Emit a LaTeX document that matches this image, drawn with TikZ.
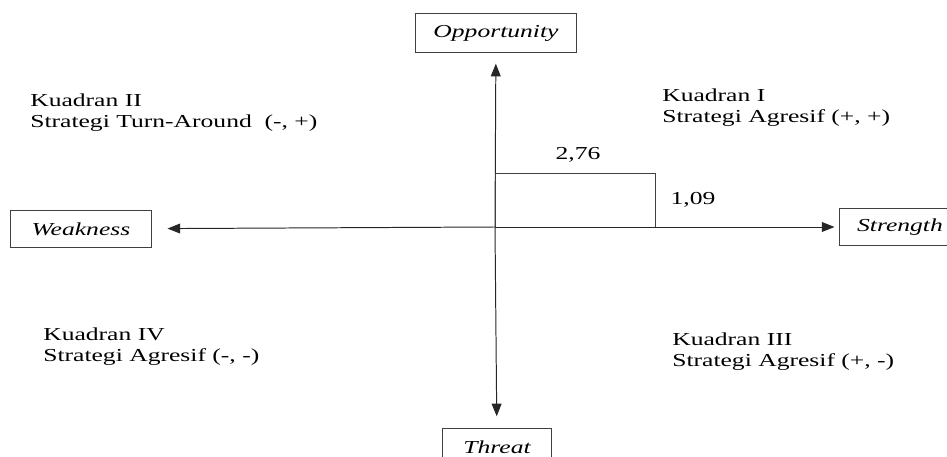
\documentclass[tikz,border=0pt]{standalone}
\usepackage{fontspec}
\setmainfont{Liberation Serif}
\usepackage{tikz}
\usetikzlibrary{arrows.meta}
\newcommand{\wtext}[1]{\scalebox{1.4}[1]{#1}}

\begin{document}
\begin{tikzpicture}[
    x=0.025cm, y=-0.025cm,
    every node/.style={font=\fontsize{13}{15}\selectfont},
    axisbox/.style={rectangle, draw=black!75, line width=0.7pt, font=\fontsize{13}{15}\selectfont\itshape},
    quad/.style={anchor=base west, align=left, inner sep=0pt},
    arrow/.style={-{Triangle[length=9pt,width=7pt]}, line width=0.7pt, black!85}
]
    \useasboundingbox (0,0) rectangle (947,457);
    \clip (0,0) rectangle (947,457);

    % The four factors
    \node[axisbox, minimum width=4cm, minimum height=0.95cm] (opp) at (496,33) {\wtext{Opportunity}};
    \node[axisbox, minimum width=2.7cm, minimum height=0.95cm] (thr) at (497,447) {\wtext{Threat}};
    \node[axisbox, minimum width=3.5cm, minimum height=0.9cm] (weak) at (81,229) {\wtext{Weakness}};
    \node[axisbox, minimum width=3.05cm, minimum height=0.9cm] (str) at (900,227) {\wtext{Strength}};

    % Axes
    \coordinate (origin) at (495,227);
    \draw[arrow, shorten >=0.28cm] (origin) -- (opp);
    \draw[arrow, shorten >=0.28cm] (origin) -- (thr);
    \draw[arrow, shorten >=0.4cm] (origin) -- (weak);
    \draw[arrow, shorten >=0.1cm] (origin) -- (str);

    % Position of the score
    \coordinate (corner) at (655,173);
    \draw[line width=0.6pt, black!75] (origin) |- (corner) -- (corner |- origin);
    \node[anchor=base, inner sep=0pt] (xval) at (578,160) {\wtext{2,76}};
    \node[anchor=base, inner sep=0pt] (yval) at (693,205) {\wtext{1,09}};

    % Quadrants
    \node[quad] (q1) at (662,123) {\wtext{Kuadran I}\\ \wtext{Strategi Agresif (+, +)}};
    \node[quad] (q2) at (30,128) {\wtext{Kuadran II}\\ \wtext{Strategi Turn-Around\ \ (-, +)}};
    \node[quad] (q3) at (672,367) {\wtext{Kuadran III}\\ \wtext{Strategi Agresif (+, -)}};
    \node[quad] (q4) at (43,362) {\wtext{Kuadran IV}\\ \wtext{Strategi Agresif (-, -)}};
\end{tikzpicture}
\end{document}
